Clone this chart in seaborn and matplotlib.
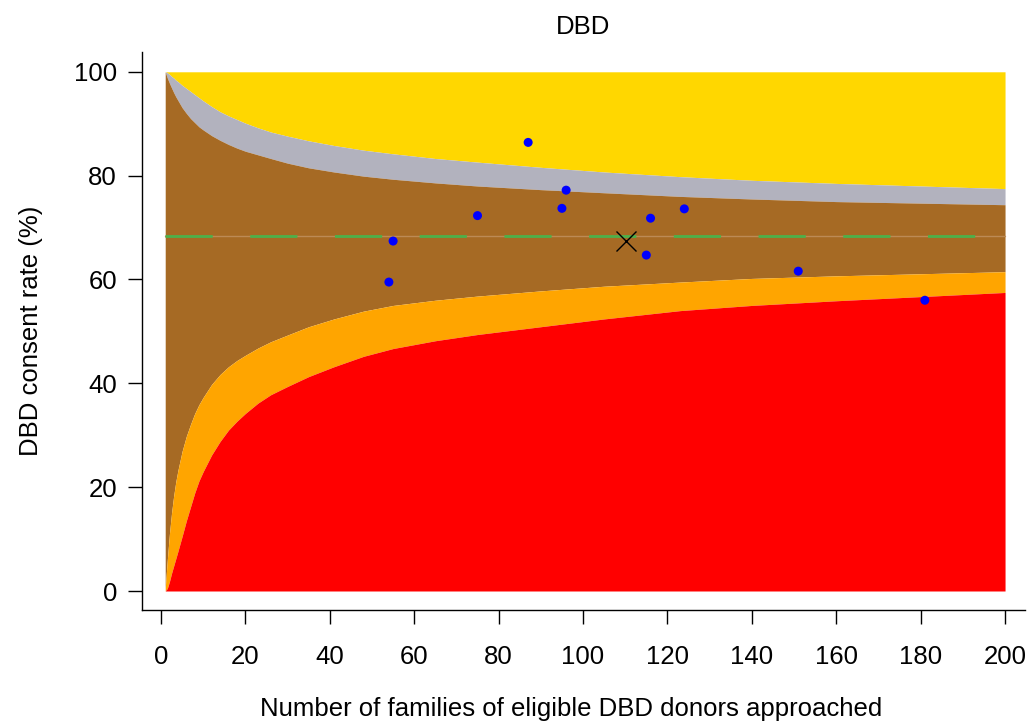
import numpy as np
import pandas as pd
import matplotlib
matplotlib.use("Agg")
import matplotlib.pyplot as plt
import seaborn as sns

sns.set_style("ticks")
plt.rcParams["font.family"] = ["Liberation Sans", "DejaVu Sans"]
plt.rcParams["text.color"] = "black"
plt.rcParams["axes.labelcolor"] = "black"

# funnel limits
n_grid = [1, 1.5, 2, 2.5, 3, 3.5, 4, 5, 6, 7, 8, 9, 10, 12, 14, 16, 18, 20, 23,
          26, 30, 35, 41, 48, 55, 65, 75, 90, 105, 123, 140, 160, 180, 200]
upper_outer = [100, 99.8, 99.5, 99.1, 98.8, 98.4, 98.1, 97.4, 96.8, 96.2, 95.6,
               95.0, 94.4, 93.3, 92.3, 91.5, 90.8, 90.1, 89.2, 88.4, 87.6, 86.7,
               85.8, 84.9, 84.2, 83.3, 82.6, 81.6, 80.7, 79.8, 79.1, 78.5, 78.0,
               77.5]
upper_inner = [100, 98.8, 97.8, 96.9, 96.0, 95.2, 94.5, 93.1, 92.0, 91.0, 90.2,
               89.4, 88.8, 87.7, 86.8, 86.0, 85.3, 84.7, 84.0, 83.3, 82.4, 81.5,
               80.7, 79.9, 79.3, 78.6, 78.0, 77.3, 76.7, 76.0, 75.5, 75.0, 74.7,
               74.4]
lower_inner = [0.5, 6.0, 11.0, 15.0, 18.3, 21.0, 23.2, 26.9, 29.8, 32.1, 34.2,
               35.9, 37.3, 39.8, 41.7, 43.2, 44.4, 45.4, 46.8, 48.0, 49.3, 50.9,
               52.4, 53.9, 55.0, 56.0, 56.8, 57.8, 58.7, 59.5, 60.2, 60.7, 61.1,
               61.5]
lower_outer = [0, 0.5, 1.8, 3.4, 4.8, 6.2, 7.6, 10.5, 13.5, 16.2, 18.9, 21.2,
               23.0, 26.2, 28.8, 31.0, 32.7, 34.2, 36.2, 37.8, 39.4, 41.3, 43.2,
               45.2, 46.7, 48.2, 49.4, 50.9, 52.4, 54.0, 55.0, 55.9, 56.7, 57.5]
mean_rate = 68.3

# hospitals
approached = [54, 55, 75, 87, 95, 96, 115, 116, 124, 151, 181]
consent = [59.5, 67.4, 72.3, 86.4, 73.7, 77.2, 64.7, 71.8, 73.6, 61.6, 56.0]
overall_n = 110.2
overall_rate = 67.4

df = pd.DataFrame({"n": approached, "rate": consent})

fig = plt.figure(figsize=(10.29, 7.23), dpi=100)
ax = fig.add_axes([0.138, 0.156, 0.858, 0.772])

ax.fill_between(n_grid, upper_outer, 100, color="#FFD700", lw=0)
ax.fill_between(n_grid, upper_inner, upper_outer, color="#B2B2BE", lw=0)
ax.fill_between(n_grid, lower_inner, upper_inner, color="#A66A24", lw=0)
ax.fill_between(n_grid, lower_outer, lower_inner, color="#FFA500", lw=0)
ax.fill_between(n_grid, 0, lower_outer, color="#FF0000", lw=0)

ax.plot([n_grid[0], n_grid[-1]], [mean_rate, mean_rate], color="#BC8A55", lw=1)
ax.plot([n_grid[0], n_grid[-1]], [mean_rate, mean_rate], color="#4DB04A", lw=2,
        dashes=(17, 13.5))

sns.scatterplot(data=df, x="n", y="rate", color="#0000FF", s=42,
                edgecolor="none", ax=ax, zorder=5)
ax.plot(overall_n, overall_rate, marker="x", color="black", ms=15, mew=1,
        zorder=6)

ax.set_xlim(-4.5, 204.7)
ax.set_ylim(-3.7, 103.8)
ax.set_xticks(range(0, 201, 20))
ax.set_yticks(range(0, 101, 20))
ax.tick_params(labelsize=18.5, length=10, width=1, colors="black")
ax.tick_params(axis="x", pad=15)
ax.tick_params(axis="y", pad=8)
for s in ["top", "right"]:
    ax.spines[s].set_visible(False)
for s in ["left", "bottom"]:
    ax.spines[s].set_color("black")
    ax.spines[s].set_linewidth(1)

ax.set_title("DBD", fontsize=18.5, pad=13)
ax.set_xlabel("Number of families of eligible DBD donors approached",
              fontsize=18.5, labelpad=20)
ax.xaxis.label.set_x(0.486)
ax.set_ylabel("DBD consent rate (%)", fontsize=18.5, labelpad=22)

fig.savefig("out.png", dpi=100)
